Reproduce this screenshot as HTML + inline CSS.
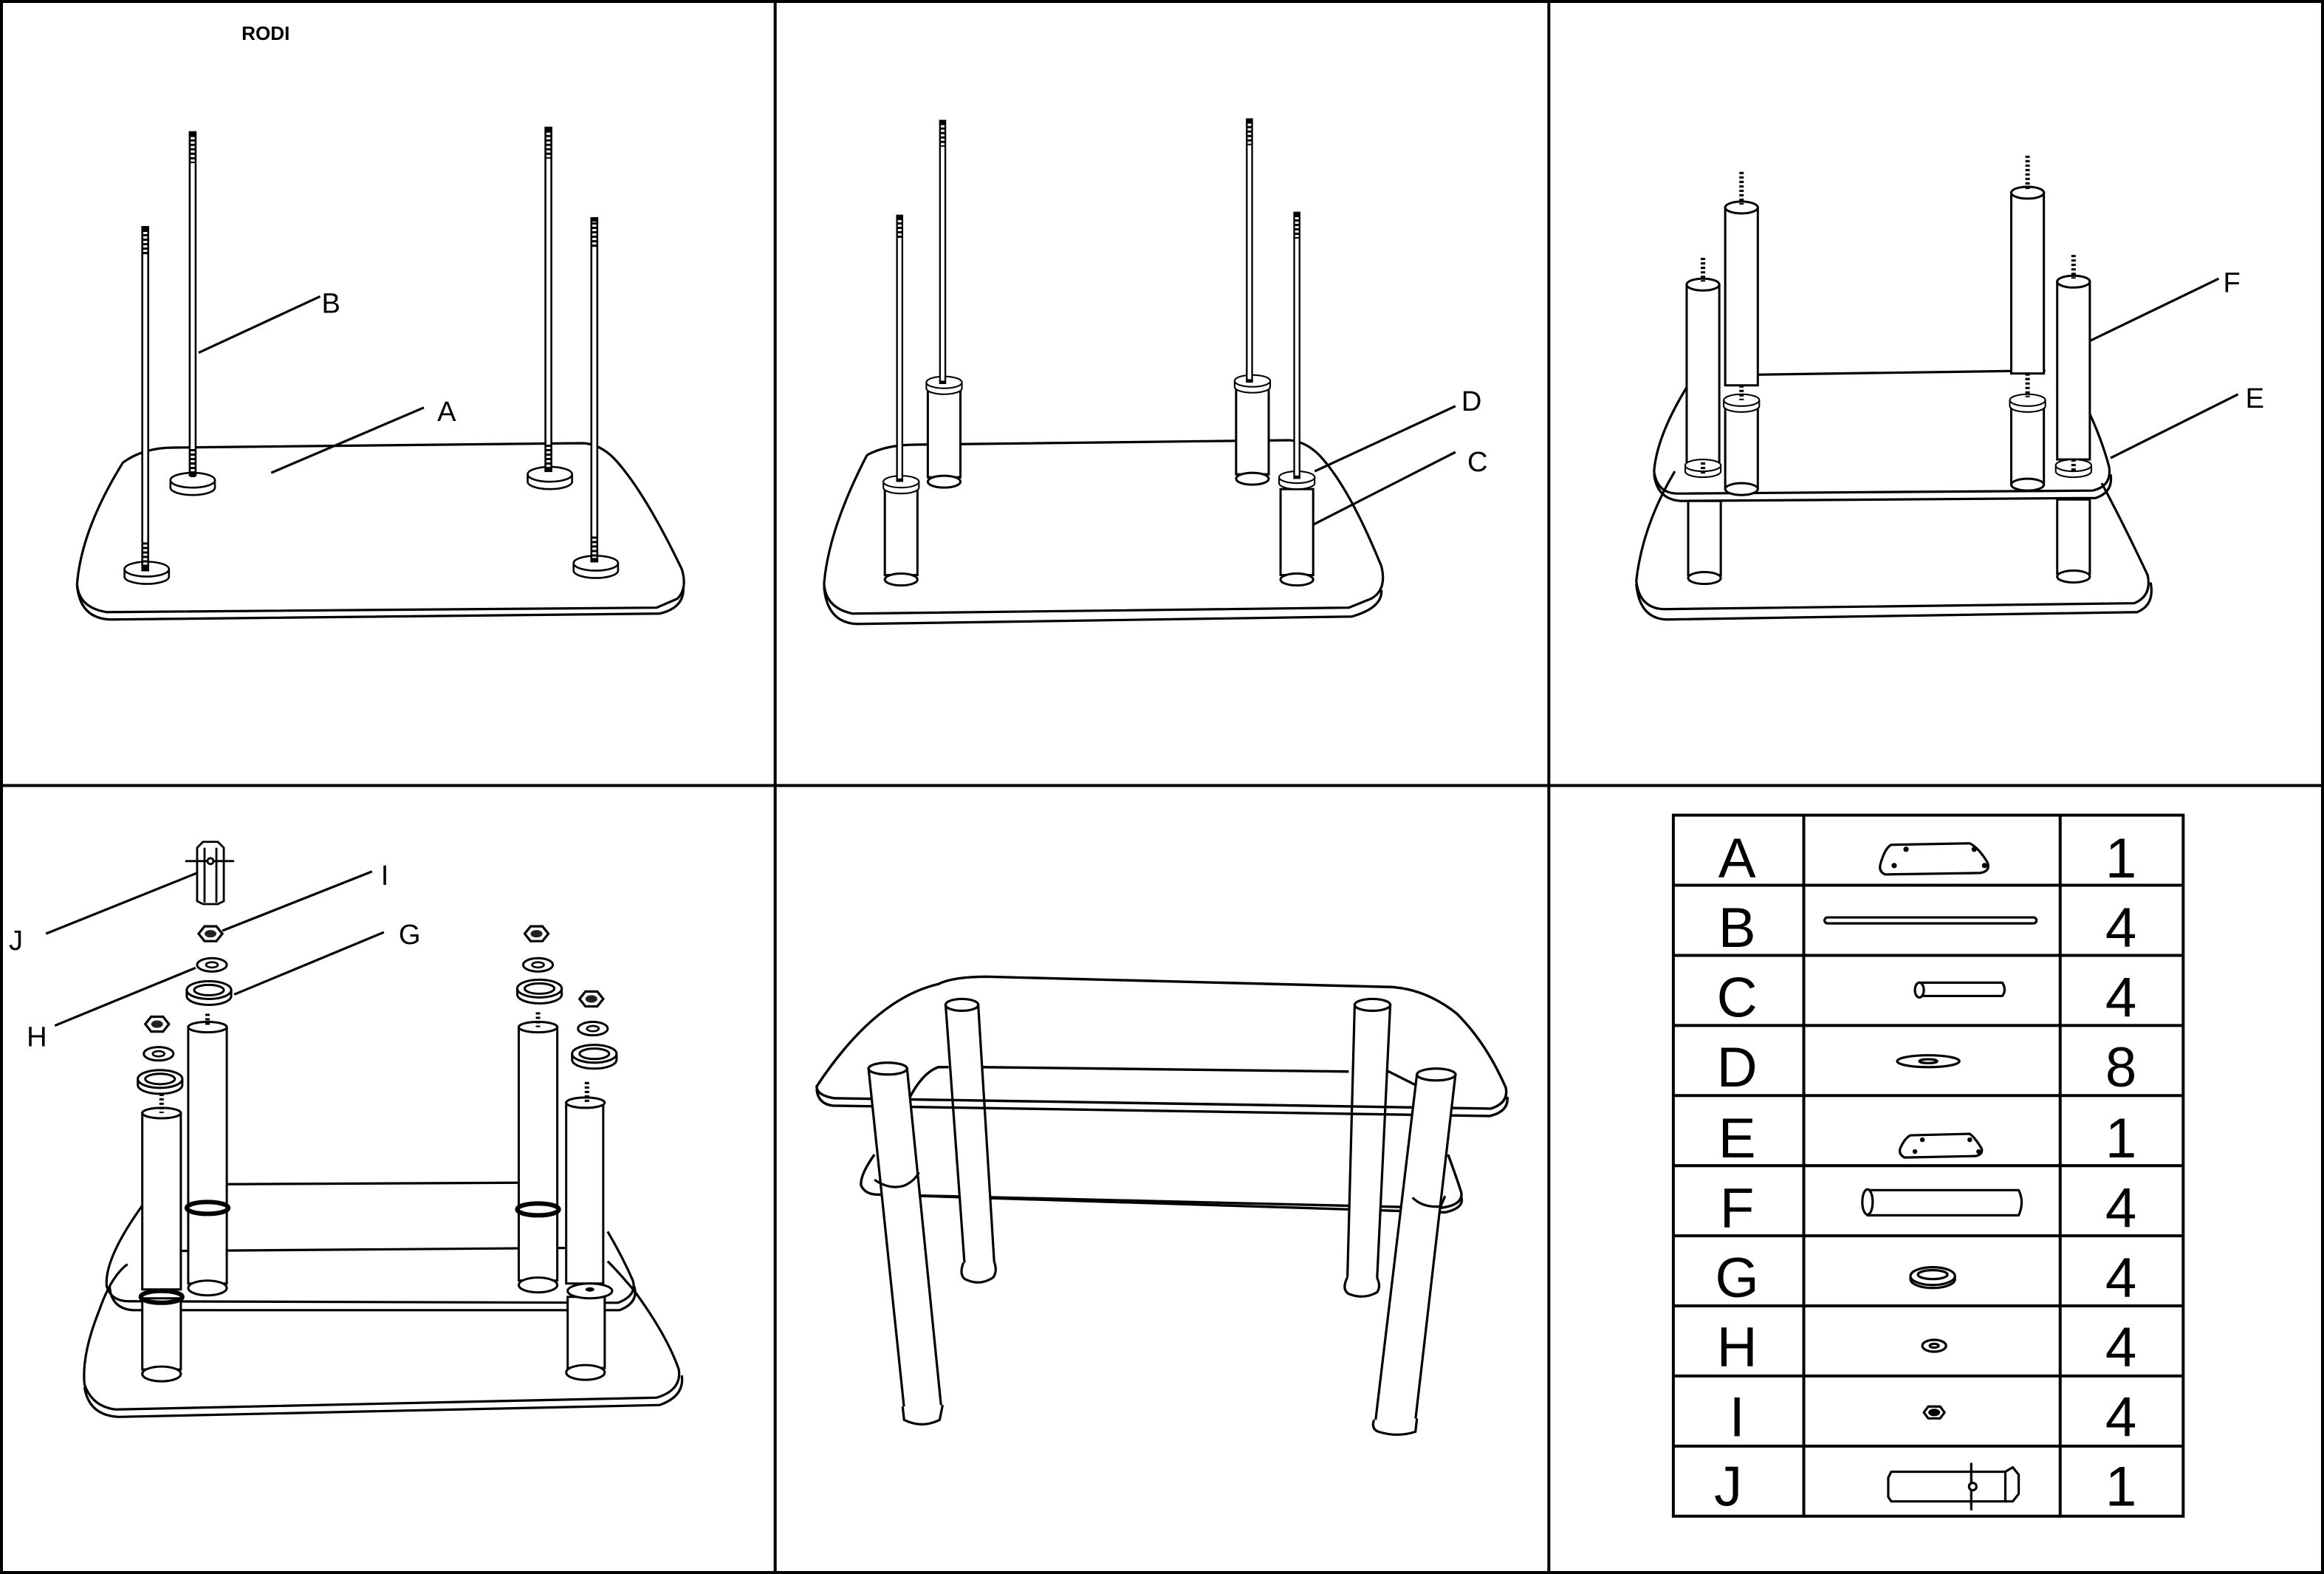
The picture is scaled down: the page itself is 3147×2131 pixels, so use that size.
<!DOCTYPE html>
<html><head><meta charset="utf-8"><style>
html,body{margin:0;padding:0;background:#fff;}
svg{display:block;}
text{font-family:"Liberation Sans",sans-serif;}
</style></head><body>
<svg width="3147" height="2131" viewBox="0 0 1568 1062" preserveAspectRatio="none" xmlns="http://www.w3.org/2000/svg">
<defs>
<g id="rod"><rect x="-2" y="0" width="4" height="100" fill="#fff" stroke="#000" stroke-width="1.3"/></g>
<g id="nut"><polygon points="-8,0 -4,-5 4,-5 8,0 4,5 -4,5" fill="#fff" stroke="#000" stroke-width="1.6"/><ellipse cx="0" cy="0" rx="4" ry="2.5" fill="#222"/></g>
<g id="washH"><ellipse cx="0" cy="0" rx="10" ry="4.5" fill="#fff" stroke="#000" stroke-width="1.5"/><ellipse cx="0" cy="0" rx="4" ry="1.8" fill="none" stroke="#000" stroke-width="1.3"/></g>
<g id="washG"><path d="M-15,0 L-15,4 A15,6 0 0 0 15,4 L15,0" fill="#fff" stroke="#000" stroke-width="1.5"/><ellipse cx="0" cy="0" rx="15" ry="6" fill="#fff" stroke="#000" stroke-width="1.5"/><ellipse cx="0" cy="0" rx="10" ry="3.5" fill="none" stroke="#000" stroke-width="1.5"/></g>
<g id="pad"><path d="M-15,0 L-15,5 A15,5 0 0 0 15,5 L15,0" fill="#fff" stroke="#000" stroke-width="1.3"/><ellipse cx="0" cy="0" rx="15" ry="5" fill="#fff" stroke="#000" stroke-width="1.3"/></g>
</defs>
<g fill="none" stroke="#000" stroke-width="2">
<rect x="1" y="1" width="1566" height="1060"/>
<line x1="523" y1="0" x2="523" y2="1062"/>
<line x1="1045" y1="0" x2="1045" y2="1062"/>
<line x1="0" y1="530" x2="1568" y2="530"/>
</g>
<text x="163" y="27" font-size="13" font-weight="bold">RODI</text>

<!-- PANEL 1 -->
<g fill="none" stroke="#000" stroke-width="1.6" stroke-linejoin="round">
<path d="M83,312 Q97,302 117,302 L394,299 Q405,300 414,309 Q434,330 460,384 Q464,397 457,404 L443,410 L72,413 Q53,410 52,394 Q55,357 83,312"/>
<path d="M52,395 Q54,417 74,418 L445,414 Q462,410 461,396"/>
</g>
<use href="#pad" transform="translate(130,324)"/>
<use href="#pad" transform="translate(371,320)"/>
<use href="#pad" transform="translate(99,384)"/>
<use href="#pad" transform="translate(402,380)"/>
<use href="#rod" transform="translate(98,154) scale(1,2.3)"/>
<use href="#rod" transform="translate(130,90) scale(1,2.3)"/>
<use href="#rod" transform="translate(370,87) scale(1,2.3)"/>
<use href="#rod" transform="translate(401,148) scale(1,2.3)"/>
<g stroke="#000" stroke-width="3" stroke-dasharray="1.5,1.5">
<line x1="98" y1="155" x2="98" y2="172"/><line x1="130" y1="91" x2="130" y2="110"/><line x1="370" y1="88" x2="370" y2="107"/><line x1="401" y1="150" x2="401" y2="168"/>
<line x1="98" y1="366" x2="98" y2="384"/><line x1="130" y1="303" x2="130" y2="322"/><line x1="370" y1="300" x2="370" y2="318"/><line x1="401" y1="362" x2="401" y2="380"/>
</g>
<g stroke="#000" stroke-width="1.6"><line x1="134" y1="238" x2="216" y2="200"/><line x1="183" y1="319" x2="286" y2="275"/></g>
<text x="217" y="211" font-size="19">B</text><text x="295" y="284" font-size="19">A</text>

<!-- PANEL 2 -->
<g fill="none" stroke="#000" stroke-width="1.6" stroke-linejoin="round">
<path d="M585,307 Q598,300 618,300 L870,297 Q881,298 890,307 Q910,328 932,382 Q936,398 925,404 L910,410 L575,414 Q557,410 556,394 Q559,357 585,307"/>
<path d="M556,396 Q558,420 578,421 L912,416 Q933,410 932,398"/>
</g>
<g fill="#fff" stroke="#000" stroke-width="1.5">
<rect x="597" y="330" width="22" height="58"/><ellipse cx="608" cy="391" rx="11" ry="4"/>
<rect x="626" y="264" width="22" height="58"/><ellipse cx="637" cy="325" rx="11" ry="4"/>
<rect x="834" y="262" width="22" height="58"/><ellipse cx="845" cy="323" rx="11" ry="4"/>
<rect x="864" y="330" width="22" height="58"/><ellipse cx="875" cy="391" rx="11" ry="4"/>
</g>
<use href="#pad" transform="translate(608,325) scale(0.8)"/>
<use href="#pad" transform="translate(637,258) scale(0.8)"/>
<use href="#pad" transform="translate(845,257) scale(0.8)"/>
<use href="#pad" transform="translate(875,322) scale(0.8)"/>
<use href="#rod" transform="translate(607,146) scale(0.9,1.78)"/>
<use href="#rod" transform="translate(636,82) scale(0.9,1.76)"/>
<use href="#rod" transform="translate(843,81) scale(0.9,1.76)"/>
<use href="#rod" transform="translate(875,144) scale(0.9,1.78)"/>
<g stroke="#000" stroke-width="3" stroke-dasharray="1.5,1.5">
<line x1="607" y1="147" x2="607" y2="162"/><line x1="636" y1="83" x2="636" y2="99"/><line x1="843" y1="82" x2="843" y2="98"/><line x1="875" y1="145" x2="875" y2="161"/>
</g>
<g stroke="#000" stroke-width="1.6"><line x1="887" y1="318" x2="982" y2="274"/><line x1="886" y1="354" x2="982" y2="305"/></g>
<text x="986" y="277" font-size="19">D</text><text x="990" y="318" font-size="19">C</text>

<!-- PANEL 3 -->
<g fill="none" stroke="#000" stroke-width="1.6" stroke-linejoin="round">
<path d="M1130,318 Q1108,355 1104,392 Q1106,410 1122,411 L1440,407 Q1452,402 1449,388 Q1432,352 1418,326"/>
<path d="M1104,394 Q1106,417 1124,418 L1442,413 Q1454,408 1451,393"/>
<path d="M1142,255 Q1118,292 1116,318 Q1118,333 1132,333 L1412,331 Q1425,328 1423,315 Q1418,296 1408,275"/>
<path d="M1116,320 Q1118,337 1134,338 L1414,336 Q1426,332 1424,320"/>
<line x1="1170" y1="253" x2="1380" y2="250"/>
</g>
<g fill="#fff" stroke="#000" stroke-width="1.5">
<rect x="1139" y="338" width="22" height="50"/><ellipse cx="1150" cy="390" rx="11" ry="4"/>
<rect x="1388" y="337" width="22" height="50"/><ellipse cx="1399" cy="389" rx="11" ry="4"/>
<rect x="1164" y="273" width="22" height="56"/><ellipse cx="1175" cy="330" rx="11" ry="4"/>
<rect x="1357" y="272" width="22" height="55"/><ellipse cx="1368" cy="327" rx="11" ry="4"/>
<rect x="1138" y="192" width="22" height="120"/><ellipse cx="1149" cy="192" rx="11" ry="4"/>
<rect x="1164" y="140" width="22" height="120"/><ellipse cx="1175" cy="140" rx="11" ry="4"/>
<rect x="1357" y="130" width="22" height="122"/><ellipse cx="1368" cy="130" rx="11" ry="4"/>
<rect x="1388" y="190" width="22" height="120"/><ellipse cx="1399" cy="190" rx="11" ry="4"/>
</g>
<use href="#pad" transform="translate(1149,314) scale(0.8)"/>
<use href="#pad" transform="translate(1175,270) scale(0.8)"/>
<use href="#pad" transform="translate(1368,270) scale(0.8)"/>
<use href="#pad" transform="translate(1399,314) scale(0.8)"/>
<g stroke="#000" stroke-width="3" stroke-dasharray="1.5,1.5">
<line x1="1149" y1="174" x2="1149" y2="190"/><line x1="1175" y1="116" x2="1175" y2="138"/><line x1="1368" y1="105" x2="1368" y2="128"/><line x1="1399" y1="172" x2="1399" y2="188"/>
<line x1="1149" y1="312" x2="1149" y2="320"/><line x1="1175" y1="260" x2="1175" y2="270"/><line x1="1368" y1="252" x2="1368" y2="268"/><line x1="1399" y1="310" x2="1399" y2="318"/>
</g>
<g stroke="#000" stroke-width="1.6"><line x1="1410" y1="230" x2="1497" y2="188"/><line x1="1424" y1="309" x2="1510" y2="266"/></g>
<text x="1500" y="197" font-size="19">F</text><text x="1515" y="275" font-size="19">E</text>

<!-- PANEL 4 -->
<g fill="none" stroke="#000" stroke-width="1.6" stroke-linejoin="round">
<path d="M86,853 Q75,861 67,884 Q55,914 57,934 Q62,949 78,951 L443,943 Q460,938 458,924 Q450,901 428,871 Q418,859 410,851"/>
<path d="M57,936 Q60,955 80,956 L445,948 Q462,942 460,928"/>
<path d="M100,808 Q70,848 72,868 Q75,878 87,878 L417,879 Q430,874 427,864 Q420,848 410,831"/>
<path d="M74,868 Q75,883 90,884 L418,884 Q431,879 428,868"/>
<line x1="153" y1="799" x2="350" y2="798"/>
<line x1="122" y1="844" x2="383" y2="842"/>
</g>
<g fill="#fff" stroke="#000" stroke-width="1.5">
<rect x="96" y="876" width="26" height="48"/><ellipse cx="109" cy="927" rx="13" ry="5"/>
<rect x="383" y="875" width="25" height="48"/><ellipse cx="395" cy="926" rx="13" ry="5"/>
<rect x="96" y="751" width="26" height="119"/><ellipse cx="109" cy="751" rx="13" ry="3.5"/>
<rect x="127" y="693" width="26" height="173"/><ellipse cx="140" cy="693" rx="13" ry="3.5"/><ellipse cx="140" cy="869" rx="13" ry="5"/>
<rect x="350" y="693" width="26" height="171"/><ellipse cx="363" cy="693" rx="13" ry="3.5"/><ellipse cx="363" cy="867" rx="13" ry="5"/>
<rect x="382" y="744" width="25" height="122"/><ellipse cx="395" cy="744" rx="13" ry="3.5"/>
</g>
<g fill="none" stroke="#000" stroke-width="3">
<ellipse cx="109" cy="875" rx="14" ry="4"/><ellipse cx="140" cy="815" rx="14" ry="4"/><ellipse cx="363" cy="816" rx="14" ry="4"/>
</g>
<ellipse cx="398" cy="871" rx="15" ry="5" fill="#fff" stroke="#000" stroke-width="1.5"/><ellipse cx="398" cy="870" rx="3" ry="1.5" fill="#000"/>
<g stroke="#000" stroke-width="3" stroke-dasharray="1.5,1.5">
<line x1="109" y1="735" x2="109" y2="751"/><line x1="140" y1="684" x2="140" y2="693"/><line x1="363" y1="683" x2="363" y2="693"/><line x1="396" y1="730" x2="396" y2="744"/>
</g>
<g fill="#fff" stroke="#000" stroke-width="1.4">
<polygon points="133,572 137,568 147,568 151,572 151,608 147,610 137,610 133,608"/>
<line x1="138" y1="572" x2="138" y2="609"/><line x1="146" y1="572" x2="146" y2="609"/>
<line x1="125" y1="581" x2="158" y2="581"/><circle cx="142" cy="581" r="2"/>
</g>
<use href="#nut" transform="translate(142,630)"/><use href="#washH" transform="translate(143,651)"/><use href="#washG" transform="translate(141,668)"/>
<use href="#nut" transform="translate(106,691)"/><use href="#washH" transform="translate(107,711)"/><use href="#washG" transform="translate(108,728)"/>
<use href="#nut" transform="translate(362,630)"/><use href="#washH" transform="translate(363,651)"/><use href="#washG" transform="translate(364,667)"/>
<use href="#nut" transform="translate(399,674)"/><use href="#washH" transform="translate(400,694)"/><use href="#washG" transform="translate(401,711)"/>
<g stroke="#000" stroke-width="1.6">
<line x1="31" y1="630" x2="133" y2="589"/><line x1="150" y1="628" x2="251" y2="588"/>
<line x1="158" y1="671" x2="259" y2="629"/><line x1="37" y1="692" x2="132" y2="653"/>
</g>
<text x="6" y="641" font-size="19">J</text><text x="257" y="597" font-size="19">I</text>
<text x="269" y="637" font-size="19">G</text><text x="18" y="706" font-size="19">H</text>

<!-- PANEL 5 -->
<g fill="none" stroke="#000" stroke-width="1.7" stroke-linejoin="round">
<line x1="661" y1="720" x2="910" y2="723"/>
<path d="M590,779 Q580,793 581,800 Q584,806 592,806 L972,815 Q987,813 986,805 Q984,798 977,779"/>
<path d="M592,806 L975,818 Q988,815 986,808"/>
<path d="M613,742 Q622,724 633,720 L640,720"/>
<path d="M935,722 L963,736"/>
</g>
<g fill="#fff" stroke="#000" stroke-width="1.6">
<polygon points="638,678 660,678 671,855 651,856"/>
<path d="M650,852 Q647,860 651,863 Q661,868 670,862 Q673,858 671,852" />
<polygon points="914,678 938,678 929,865 909,866"/>
<path d="M909,862 Q905,870 910,873 Q920,877 929,872 Q932,868 929,862"/>
</g>
<g fill="none" stroke="#000" stroke-width="1.7" stroke-linejoin="round">
<path d="M551,733 Q590,674 633,664 Q643,659 666,659 L940,666 Q963,668 983,684 Q1003,704 1016,734 Q1018,744 1006,748 L563,741 Q551,739 551,733 Z"/>
<path d="M551,735 Q552,745 562,746 L1005,753 Q1018,750 1017,740"/>
</g>
<g fill="#fff" stroke="#000" stroke-width="1.6">
<polygon points="586,721 612,721 635,949 610,950"/>
<path d="M609,949 L610,958 Q622,964 634,958 L636,948"/>
<polygon points="956,725 982,725 955,958 928,959"/>
<path d="M927,958 Q925,964 930,966 Q943,970 955,966 L956,957"/>
</g>
<ellipse cx="599" cy="721" rx="13" ry="4" fill="#fff" stroke="#000" stroke-width="1.6"/>
<ellipse cx="649" cy="678" rx="11" ry="4" fill="#fff" stroke="#000" stroke-width="1.6"/>
<ellipse cx="926" cy="678" rx="12" ry="4" fill="#fff" stroke="#000" stroke-width="1.6"/>
<ellipse cx="969" cy="725" rx="13" ry="4" fill="#fff" stroke="#000" stroke-width="1.6"/>
<g fill="none" stroke="#000" stroke-width="1.6">
<path d="M590,796 Q600,803 610,800 Q617,797 620,791"/>
<path d="M953,808 Q960,815 972,814 L975,807"/>
</g>

<!-- PANEL 6 TABLE -->
<g fill="none" stroke="#000" stroke-width="2">
<rect x="1129" y="550" width="344" height="473"/>
<line x1="1217" y1="550" x2="1217" y2="1023"/>
<line x1="1390" y1="550" x2="1390" y2="1023"/>
<line x1="1129" y1="597.3" x2="1473" y2="597.3"/>
<line x1="1129" y1="644.6" x2="1473" y2="644.6"/>
<line x1="1129" y1="691.9" x2="1473" y2="691.9"/>
<line x1="1129" y1="739.2" x2="1473" y2="739.2"/>
<line x1="1129" y1="786.5" x2="1473" y2="786.5"/>
<line x1="1129" y1="833.8" x2="1473" y2="833.8"/>
<line x1="1129" y1="881.1" x2="1473" y2="881.1"/>
<line x1="1129" y1="928.4" x2="1473" y2="928.4"/>
<line x1="1129" y1="975.7" x2="1473" y2="975.7"/>
</g>
<g font-size="38" text-anchor="middle">
<text x="1172" y="592">A</text><text x="1172" y="639">B</text><text x="1172" y="686">C</text>
<text x="1172" y="733">D</text><text x="1172" y="781">E</text><text x="1172" y="828">F</text>
<text x="1172" y="875">G</text><text x="1172" y="922">H</text><text x="1172" y="969">I</text><text x="1166" y="1016">J</text>
<text x="1431" y="592">1</text><text x="1431" y="639">4</text><text x="1431" y="686">4</text>
<text x="1431" y="733">8</text><text x="1431" y="781">1</text><text x="1431" y="828">4</text>
<text x="1431" y="875">4</text><text x="1431" y="922">4</text><text x="1431" y="969">4</text><text x="1431" y="1016">1</text>
</g>
<g fill="#fff" stroke="#000" stroke-width="1.6" stroke-linejoin="round">
<path d="M1276,570 L1329,569 Q1335,572 1341,582 Q1343,588 1336,589 L1272,590 Q1267,588 1269,582 Q1272,572 1276,570 Z"/>
<path d="M1289,766 L1329,765 Q1333,768 1337,775 Q1338,779 1333,780 L1285,781 Q1281,779 1282,775 Q1285,768 1289,766 Z"/>
<rect x="1231" y="619" width="143" height="4" rx="2"/>
<path d="M1295,663 L1351,663 Q1354,668 1351,672 L1295,672 Z"/><ellipse cx="1295" cy="668" rx="3" ry="5"/>
<path d="M1260,803 L1362,803 Q1366,811 1362,820 L1260,820 Z"/><ellipse cx="1260" cy="811" rx="3.5" ry="8.5"/>
<ellipse cx="1301" cy="716" rx="21" ry="4"/><ellipse cx="1301" cy="716" rx="6" ry="1.3"/>
<path d="M1289,861 L1289,863 A15,6 0 0 0 1319,863 L1319,861"/><ellipse cx="1304" cy="861" rx="15" ry="6"/><ellipse cx="1304" cy="860" rx="10" ry="3"/>
<ellipse cx="1305" cy="908" rx="8" ry="4"/><ellipse cx="1305" cy="908" rx="3" ry="1.3"/>
<polygon points="1298,953 1301,949 1309,949 1312,953 1309,957 1301,957"/>
<polygon points="1274,997 1276,993 1353,993 1355,997 1355,1010 1353,1013 1276,1013 1274,1010"/>
<polygon points="1353,993 1358,990 1362,995 1362,1008 1358,1013 1353,1013"/>
<line x1="1330" y1="987" x2="1330" y2="1019"/><circle cx="1331" cy="1003" r="2.5"/>
</g>
<g fill="#000">
<circle cx="1286" cy="573" r="1.8"/><circle cx="1332" cy="573" r="1.8"/><circle cx="1278" cy="584" r="1.8"/><circle cx="1339" cy="584" r="1.8"/>
<circle cx="1297" cy="769" r="1.6"/><circle cx="1329" cy="769" r="1.6"/><circle cx="1292" cy="777" r="1.6"/><circle cx="1335" cy="777" r="1.6"/>
<ellipse cx="1305" cy="953" rx="4" ry="2.5"/>
</g>
</svg>
</body></html>
